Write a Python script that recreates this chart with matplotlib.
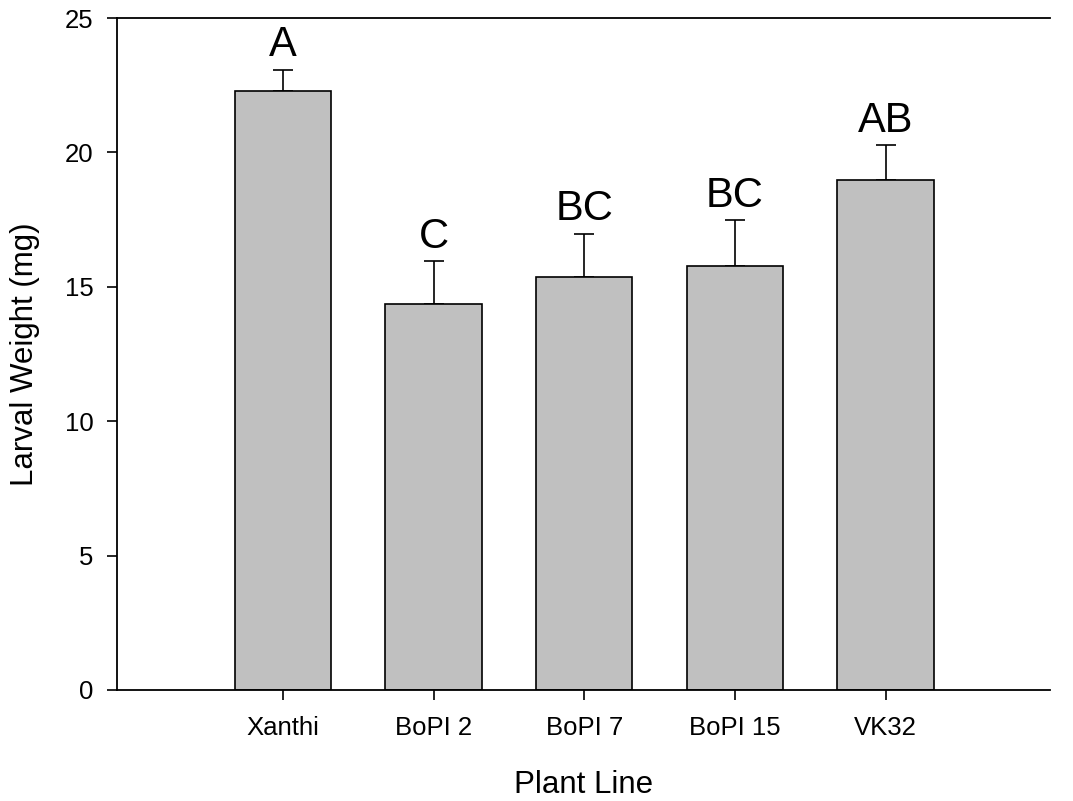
import numpy as np
import matplotlib
matplotlib.use("Agg")
import matplotlib.pyplot as plt

plt.rcParams['font.family'] = ['Liberation Sans', 'DejaVu Sans']

# data
lines = ['Xanthi', 'BoPI 2', 'BoPI 7', 'BoPI 15', 'VK32']
weight = [22.3, 14.35, 15.38, 15.79, 18.97]
err = [0.78, 1.6, 1.6, 1.7, 1.31]
letters = ['A', 'C', 'BC', 'BC', 'AB']

fig = plt.figure(figsize=(10.73, 8.01), dpi=100)
ax = fig.add_axes([0.109, 0.1386, 0.8696, 0.8389])

x = np.arange(len(lines))
ax.bar(x, weight, width=0.64, color='#c0c0c0', edgecolor='black', linewidth=1.2, zorder=2)
ax.errorbar(x, weight, yerr=[np.zeros(len(err)), err], fmt='none', ecolor='black',
            elinewidth=1.2, capsize=7.5, capthick=1.2, zorder=1)

# significance letters
for xi, w, e, lab in zip(x, weight, err, letters):
    ax.annotate(lab, (xi, w + e), xytext=(0, 9.5), textcoords='offset points',
                ha='center', va='baseline', fontsize=30)

ax.set_xlim(-1.1, 5.09)
ax.set_ylim(0, 25)
ax.set_xticks(x)
ax.set_xticklabels(lines)
ax.set_yticks([0, 5, 10, 15, 20, 25])

ax.spines['right'].set_visible(False)
for s in ['top', 'left', 'bottom']:
    ax.spines[s].set_linewidth(1.3)
ax.tick_params(direction='out', length=7, width=1.2, labelsize=18.5)
ax.tick_params(axis='y', pad=10)
ax.tick_params(axis='x', pad=12)

ax.set_xlabel('Plant Line', fontsize=22.5, labelpad=21)
ax.set_ylabel('Larval Weight (mg)', fontsize=22.5, labelpad=18)

fig.savefig('out.png', dpi=100)
